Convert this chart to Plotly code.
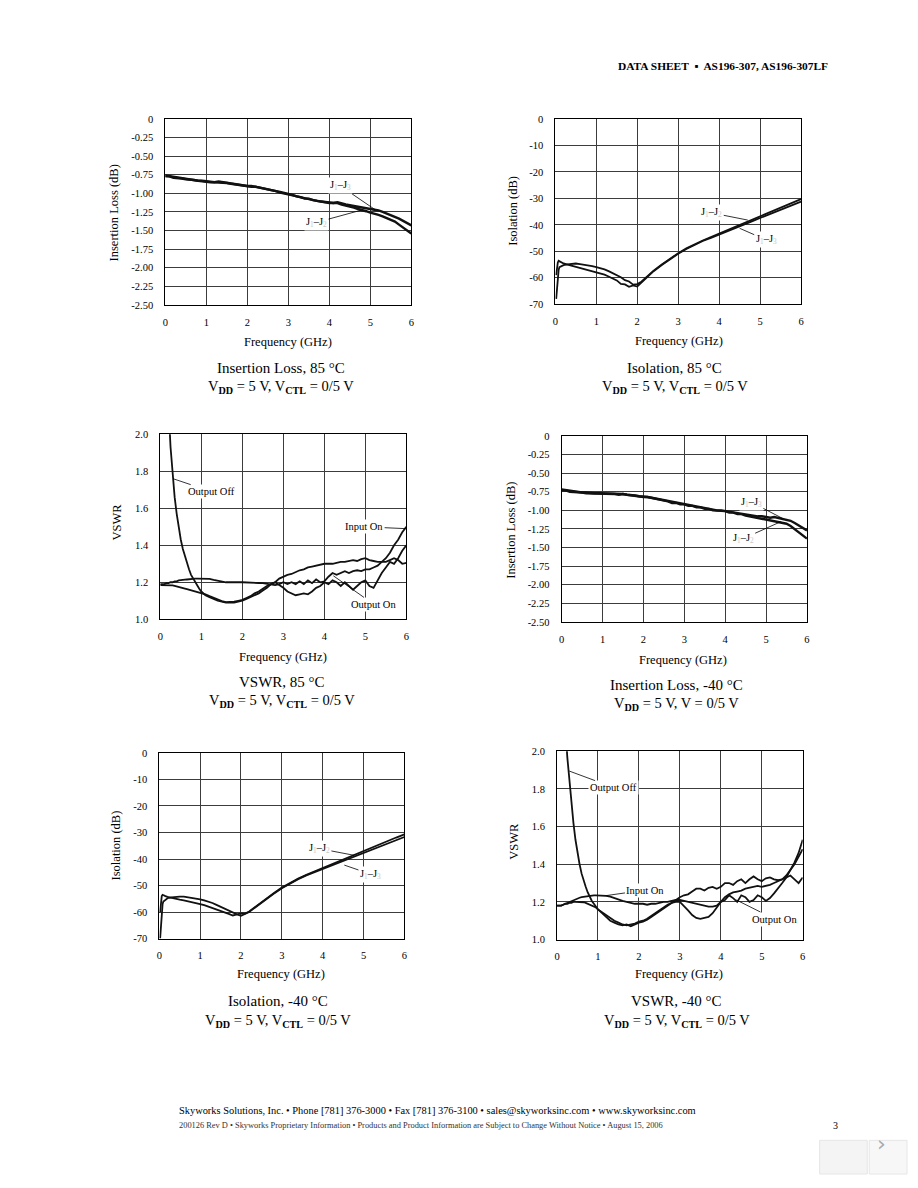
import plotly.graph_objects as go

PAGE_W, PAGE_H = 918, 1188
BODY_MARGIN = 8           # default browser body margin around the plot div
W, H = PAGE_W - 2 * BODY_MARGIN, PAGE_H - 2 * BODY_MARGIN

# ---------------- data ----------------
FREQ_IL = [0.0, 0.1, 0.2, 0.3, 0.4, 0.5, 0.6, 0.7, 0.8, 0.9, 1.0, 1.1, 1.2, 1.3, 1.4, 1.5,
           1.6, 1.7, 1.8, 1.9, 2.0, 2.1, 2.2, 2.3, 2.4, 2.5, 2.6, 2.7, 2.8, 2.9, 3.0, 3.1,
           3.2, 3.3, 3.4, 3.5, 3.6, 3.7, 3.8, 3.9, 4.0, 4.1, 4.2, 4.3, 4.4, 4.5, 4.6, 4.7,
           4.8, 4.9, 5.0, 5.1, 5.2, 5.3, 5.4, 5.5, 5.6, 5.7, 5.8, 5.9, 6.0]

IL85_J13 = [-0.76, -0.77, -0.78, -0.79, -0.80, -0.80, -0.81, -0.82, -0.83, -0.83, -0.84, -0.84,
            -0.85, -0.84, -0.85, -0.86, -0.87, -0.87, -0.88, -0.89, -0.90, -0.90, -0.91, -0.92,
            -0.93, -0.94, -0.95, -0.97, -0.98, -0.99, -1.01, -1.02, -1.04, -1.05, -1.06, -1.07,
            -1.08, -1.10, -1.11, -1.12, -1.12, -1.13, -1.12, -1.14, -1.15, -1.16, -1.17, -1.18,
            -1.19, -1.20, -1.21, -1.22, -1.23, -1.25, -1.27, -1.29, -1.31, -1.34, -1.37, -1.40, -1.43]
IL85_J12 = [-0.77, -0.77, -0.79, -0.79, -0.80, -0.81, -0.81, -0.82, -0.83, -0.84, -0.84, -0.85,
            -0.85, -0.85, -0.86, -0.86, -0.87, -0.88, -0.88, -0.89, -0.90, -0.91, -0.91, -0.92,
            -0.94, -0.94, -0.96, -0.97, -0.99, -1.00, -1.01, -1.03, -1.04, -1.05, -1.07, -1.07,
            -1.09, -1.10, -1.12, -1.12, -1.13, -1.13, -1.13, -1.15, -1.16, -1.17, -1.19, -1.21,
            -1.22, -1.24, -1.26, -1.27, -1.29, -1.31, -1.33, -1.35, -1.38, -1.42, -1.46, -1.50, -1.54]

IL40_J13 = [-0.72, -0.73, -0.74, -0.75, -0.75, -0.76, -0.76, -0.77, -0.77, -0.77, -0.77, -0.77,
            -0.77, -0.78, -0.78, -0.78, -0.79, -0.79, -0.80, -0.81, -0.81, -0.82, -0.83, -0.84,
            -0.85, -0.86, -0.88, -0.89, -0.90, -0.91, -0.92, -0.93, -0.94, -0.95, -0.96, -0.97,
            -0.98, -0.99, -1.00, -1.00, -1.01, -1.02, -1.03, -1.04, -1.05, -1.06, -1.07, -1.07,
            -1.08, -1.08, -1.09, -1.10, -1.09, -1.10, -1.11, -1.12, -1.14, -1.17, -1.20, -1.23, -1.27]
IL40_J12 = [-0.73, -0.73, -0.75, -0.75, -0.76, -0.76, -0.77, -0.77, -0.78, -0.77, -0.78, -0.77,
            -0.78, -0.78, -0.79, -0.78, -0.79, -0.80, -0.80, -0.81, -0.82, -0.82, -0.83, -0.85,
            -0.85, -0.87, -0.88, -0.90, -0.90, -0.92, -0.92, -0.94, -0.94, -0.96, -0.96, -0.98,
            -0.98, -1.00, -1.00, -1.01, -1.01, -1.03, -1.03, -1.05, -1.05, -1.07, -1.08, -1.09,
            -1.10, -1.11, -1.13, -1.14, -1.15, -1.16, -1.17, -1.18, -1.21, -1.25, -1.29, -1.33, -1.38]

FREQ_ISO = [0.02, 0.04, 0.06, 0.08, 0.1, 0.15, 0.2, 0.3, 0.4, 0.5, 0.6, 0.7, 0.8, 0.9, 1.0,
            1.1, 1.2, 1.3, 1.4, 1.5, 1.6, 1.7, 1.8, 1.9, 2.0, 2.1, 2.2, 2.3, 2.4, 2.6, 2.8,
            3.0, 3.2, 3.4, 3.6, 3.8, 4.0, 4.2, 4.4, 4.6, 4.8, 5.0, 5.2, 5.4, 5.6, 5.8, 6.0]

ISO85_J12 = [-68.0, -63.0, -59.0, -57.0, -56.0, -55.5, -55.2, -54.9, -54.7, -54.6, -54.8, -55.0,
             -55.3, -55.6, -56.0, -56.4, -56.8, -57.5, -58.2, -59.0, -59.8, -60.9, -61.4, -62.6,
             -62.4, -61.5, -60.0, -58.6, -57.3, -55.0, -52.8, -50.7, -48.9, -47.3, -45.9, -44.6,
             -43.3, -42.0, -40.6, -39.3, -38.0, -36.7, -35.4, -34.1, -32.8, -31.6, -30.3]
ISO85_J13 = [-59.0, -56.0, -54.2, -53.6, -53.8, -54.2, -54.6, -55.0, -55.4, -55.8, -56.2, -56.6,
             -57.0, -57.4, -57.8, -58.3, -58.8, -59.5, -60.3, -61.0, -62.3, -62.5, -63.4, -62.9,
             -63.3, -61.8, -60.2, -58.8, -57.5, -55.2, -53.0, -50.9, -49.1, -47.5, -46.1, -44.9,
             -43.7, -42.5, -41.2, -40.0, -38.7, -37.4, -36.2, -34.9, -33.7, -32.4, -31.2]

ISO40_J12 = [-70.0, -64.0, -59.0, -57.0, -56.0, -55.2, -54.8, -54.5, -54.3, -54.2, -54.2, -54.4,
             -54.6, -54.9, -55.2, -55.6, -56.0, -56.6, -57.3, -58.0, -58.8, -59.6, -60.2, -60.9,
             -60.5, -60.6, -59.8, -58.6, -57.4, -55.1, -52.9, -50.8, -49.0, -47.4, -46.0, -44.7,
             -43.4, -42.1, -40.8, -39.5, -38.2, -36.9, -35.6, -34.4, -33.1, -31.9, -30.7]
ISO40_J13 = [-60.0, -56.0, -54.0, -53.5, -53.7, -54.0, -54.3, -54.7, -55.0, -55.3, -55.6, -55.9,
             -56.2, -56.6, -57.0, -57.4, -57.9, -58.4, -59.0, -59.6, -60.2, -60.7, -61.3, -60.9,
             -61.4, -60.8, -60.0, -58.8, -57.6, -55.3, -53.1, -51.0, -49.2, -47.6, -46.2, -45.0,
             -43.8, -42.6, -41.4, -40.2, -39.0, -37.8, -36.6, -35.3, -34.1, -32.9, -31.7]

FREQ_VSWR = [0.0, 0.05, 0.1, 0.15, 0.2, 0.25, 0.3, 0.35, 0.4, 0.45, 0.5, 0.55, 0.6, 0.65, 0.7,
             0.75, 0.8, 0.85, 0.9, 0.95, 1.0, 1.1, 1.2, 1.3, 1.4, 1.5, 1.6, 1.7, 1.8, 1.9, 2.0,
             2.1, 2.2, 2.3, 2.4, 2.5, 2.6, 2.7, 2.8, 2.9, 3.0, 3.1, 3.2, 3.3, 3.4, 3.5, 3.6,
             3.7, 3.8, 3.9, 4.0, 4.1, 4.2, 4.3, 4.4, 4.5, 4.6, 4.7, 4.8, 4.9, 5.0, 5.1, 5.2,
             5.3, 5.4, 5.5, 5.6, 5.7, 5.8, 5.9, 6.0]

VSWR85_OFF = [3.6, 3.2, 2.8, 2.45, 2.15, 1.93, 1.78, 1.66, 1.57, 1.49, 1.43, 1.38, 1.34, 1.30,
              1.27, 1.24, 1.22, 1.20, 1.18, 1.165, 1.15, 1.13, 1.12, 1.11, 1.10, 1.095, 1.09,
              1.09, 1.09, 1.095, 1.10, 1.11, 1.12, 1.13, 1.14, 1.155, 1.17, 1.19, 1.20, 1.22,
              1.23, 1.24, 1.245, 1.255, 1.265, 1.27, 1.28, 1.285, 1.29, 1.295, 1.30, 1.30, 1.30,
              1.305, 1.31, 1.31, 1.315, 1.32, 1.315, 1.325, 1.33, 1.32, 1.315, 1.31, 1.31, 1.31,
              1.32, 1.33, 1.32, 1.30, 1.305]
VSWR85_IN = [1.19, 1.19, 1.19, 1.195, 1.195, 1.20, 1.20, 1.205, 1.205, 1.21, 1.21, 1.212, 1.214,
             1.215, 1.217, 1.218, 1.219, 1.22, 1.22, 1.22, 1.22, 1.219, 1.218, 1.213, 1.208,
             1.203, 1.20, 1.20, 1.198, 1.20, 1.20, 1.198, 1.20, 1.197, 1.196, 1.195, 1.193, 1.19,
             1.185, 1.19, 1.20, 1.19, 1.20, 1.19, 1.205, 1.19, 1.21, 1.195, 1.215, 1.20, 1.205,
             1.23, 1.25, 1.24, 1.25, 1.26, 1.25, 1.26, 1.265, 1.26, 1.27, 1.27, 1.28, 1.29, 1.31,
             1.33, 1.36, 1.40, 1.43, 1.47, 1.50]
VSWR85_OUT = [1.185, 1.185, 1.185, 1.185, 1.185, 1.185, 1.183, 1.18, 1.178, 1.175, 1.172, 1.17,
              1.166, 1.163, 1.16, 1.157, 1.155, 1.152, 1.15, 1.147, 1.145, 1.135, 1.125, 1.115,
              1.105, 1.098, 1.093, 1.093, 1.095, 1.10, 1.105, 1.115, 1.125, 1.14, 1.15, 1.165,
              1.18, 1.19, 1.20, 1.185, 1.17, 1.15, 1.14, 1.13, 1.135, 1.14, 1.135, 1.15, 1.17,
              1.18, 1.20, 1.19, 1.21, 1.20, 1.18, 1.20, 1.18, 1.16, 1.18, 1.20, 1.21, 1.18, 1.17,
              1.21, 1.25, 1.28, 1.31, 1.30, 1.33, 1.37, 1.40]

VSWR40_OFF = [3.6, 3.2, 2.8, 2.45, 2.15, 1.97, 1.85, 1.72, 1.62, 1.53, 1.46, 1.40, 1.35, 1.31,
              1.28, 1.25, 1.225, 1.205, 1.19, 1.175, 1.16, 1.14, 1.12, 1.10, 1.09, 1.08, 1.075,
              1.08, 1.07, 1.08, 1.09, 1.095, 1.105, 1.12, 1.135, 1.15, 1.165, 1.18, 1.195, 1.21,
              1.225, 1.235, 1.24, 1.255, 1.27, 1.27, 1.26, 1.275, 1.28, 1.27, 1.28, 1.30, 1.30,
              1.29, 1.31, 1.32, 1.30, 1.32, 1.335, 1.32, 1.31, 1.325, 1.33, 1.32, 1.315, 1.32,
              1.33, 1.34, 1.32, 1.30, 1.33]
VSWR40_IN = [1.18, 1.18, 1.18, 1.185, 1.19, 1.195, 1.20, 1.205, 1.21, 1.215, 1.22, 1.222, 1.225,
             1.227, 1.228, 1.23, 1.232, 1.233, 1.234, 1.235, 1.235, 1.234, 1.232, 1.228, 1.22,
             1.21, 1.205, 1.20, 1.195, 1.19, 1.19, 1.19, 1.185, 1.19, 1.19, 1.195, 1.20, 1.20,
             1.205, 1.21, 1.21, 1.205, 1.20, 1.195, 1.19, 1.185, 1.18, 1.175, 1.175, 1.18, 1.20,
             1.225, 1.24, 1.25, 1.255, 1.26, 1.27, 1.275, 1.28, 1.285, 1.28, 1.285, 1.29, 1.30,
             1.31, 1.32, 1.34, 1.37, 1.41, 1.46, 1.53]
VSWR40_OUT = [1.18, 1.18, 1.18, 1.185, 1.19, 1.19, 1.195, 1.195, 1.20, 1.20, 1.20, 1.20, 1.20,
              1.198, 1.195, 1.19, 1.185, 1.18, 1.175, 1.17, 1.16, 1.145, 1.13, 1.115, 1.10, 1.09,
              1.08, 1.075, 1.08, 1.085, 1.095, 1.10, 1.11, 1.125, 1.14, 1.155, 1.17, 1.185, 1.195,
              1.20, 1.20, 1.18, 1.155, 1.13, 1.115, 1.11, 1.115, 1.12, 1.14, 1.17, 1.20, 1.21,
              1.235, 1.22, 1.20, 1.235, 1.225, 1.20, 1.21, 1.235, 1.225, 1.205, 1.22, 1.245, 1.27,
              1.30, 1.33, 1.37, 1.40, 1.44, 1.48]

FREQ_TICKS = [0, 1, 2, 3, 4, 5, 6]
IL_TICKS = [0, -0.25, -0.5, -0.75, -1.0, -1.25, -1.5, -1.75, -2.0, -2.25, -2.5]
IL_TICKTEXT = ["0", "-0.25", "-0.50", "-0.75", "-1.00", "-1.25", "-1.50", "-1.75", "-2.00", "-2.25", "-2.50"]
ISO_TICKS = [0, -10, -20, -30, -40, -50, -60, -70]
ISO_TICKTEXT = ["0", "-10", "-20", "-30", "-40", "-50", "-60", "-70"]
VSWR_TICKS = [1.0, 1.2, 1.4, 1.6, 1.8, 2.0]
VSWR_TICKTEXT = ["1.0", "1.2", "1.4", "1.6", "1.8", "2.0"]

# ---------------- layout helpers ----------------
FONT = "Liberation Serif, Times New Roman, serif"
def px(x):
    return (x - BODY_MARGIN) / W
def py(y):
    return 1 - (y - BODY_MARGIN) / H

# panel boxes in page pixels: (left, right, top, bottom)
PANELS = [
    dict(box=(163.3, 411.0, 115.0, 302.7), kind="il"),
    dict(box=(556.0, 803.3, 115.0, 302.0), kind="iso"),
    dict(box=(158.3, 406.0, 433.3, 620.0), kind="vswr"),
    dict(box=(562.3, 809.3, 435.0, 622.7), kind="il"),
    dict(box=(157.3, 404.0, 755.0, 942.3), kind="iso"),
    dict(box=(557.7, 805.0, 753.3, 943.3), kind="vswr"),
]

fig = go.Figure()

series = [
    (1, FREQ_IL, IL85_J13, 2.4), (1, FREQ_IL, IL85_J12, 2.4),
    (2, FREQ_ISO, ISO85_J12, 1.8), (2, FREQ_ISO, ISO85_J13, 1.8),
    (3, FREQ_VSWR, VSWR85_OFF, 1.8), (3, FREQ_VSWR, VSWR85_IN, 1.8), (3, FREQ_VSWR, VSWR85_OUT, 1.8),
    (4, FREQ_IL, IL40_J13, 2.4), (4, FREQ_IL, IL40_J12, 2.4),
    (5, FREQ_ISO, ISO40_J12, 1.8), (5, FREQ_ISO, ISO40_J13, 1.8),
    (6, FREQ_VSWR, VSWR40_OFF, 1.8), (6, FREQ_VSWR, VSWR40_IN, 1.8), (6, FREQ_VSWR, VSWR40_OUT, 1.8),
]
for idx, xs, ys, w in series:
    sfx = "" if idx == 1 else str(idx)
    fig.add_trace(go.Scatter(x=xs, y=ys, mode="lines", line=dict(color="#111", width=w),
                             xaxis="x" + sfx, yaxis="y" + sfx, showlegend=False,
                             hoverinfo="skip"))

layout = dict(width=W, height=H, margin=dict(l=0, r=0, t=0, b=0), autosize=False,
              paper_bgcolor="white", plot_bgcolor="white", showlegend=False,
              font=dict(family=FONT, color="black", size=10))

GRID = "#3c3c3c"
for i, p in enumerate(PANELS, start=1):
    l, r, t, b = p["box"]
    sfx = "" if i == 1 else str(i)
    xa = dict(domain=[px(l), px(r)], anchor="y" + sfx, range=[0, 6], tickvals=FREQ_TICKS,
              showgrid=True, gridcolor=GRID, gridwidth=1, zeroline=False,
              showline=True, linecolor="black", linewidth=1, mirror=True, ticks="",
              ticklabelstandoff=7, tickfont=dict(family=FONT, size=10.5, color="black"))
    ya = dict(domain=[py(b), py(t)], anchor="x" + sfx, showgrid=True, gridcolor=GRID, gridwidth=1,
              zeroline=False, showline=True, linecolor="black", linewidth=1, mirror=True,
              ticks="", ticklabelstandoff=9, tickfont=dict(family=FONT, size=10.5, color="black"))
    if p["kind"] == "il":
        ya.update(range=[-2.5, 0], tickvals=IL_TICKS, ticktext=IL_TICKTEXT)
    elif p["kind"] == "iso":
        ya.update(range=[-70, 0], tickvals=ISO_TICKS, ticktext=ISO_TICKTEXT)
    else:
        ya.update(range=[1.0, 2.0], tickvals=VSWR_TICKS, ticktext=VSWR_TICKTEXT)
    layout["xaxis" + sfx] = xa
    layout["yaxis" + sfx] = ya

fig.update_layout(**layout)

ann = []
def page_text(x, y, text, size, xanchor="center", angle=0, color="black"):
    ann.append(dict(x=px(x), y=py(y), xref="paper", yref="paper", text=text, showarrow=False,
                    xanchor=xanchor, yanchor="middle", textangle=angle,
                    font=dict(family=FONT, size=size, color=color)))

# header
page_text(832, 62, "<b>DATA SHEET  ▪  AS196-307, AS196-307LF</b>", 11.4, xanchor="right")

# axis titles
XT = [(287, 340), (680, 339), (282, 658), (685, 661), (280, 978), (680, 978)]
for x, y in XT:
    page_text(x, y, "Frequency (GHz)", 12.5)
YT = [(112, 210, "Insertion Loss (dB)"), (513, 208, "Isolation (dB)"), (115, 522, "VSWR"),
      (511, 530, "Insertion Loss (dB)"), (114, 848, "Isolation (dB)"), (515, 844, "VSWR")]
for x, y, t in YT:
    page_text(x, y, t, 12.5, angle=-90)

# captions
VLINE = "V<sub><b>DD</b></sub> = 5 V, V<sub><b>CTL</b></sub> = 0/5 V"
CAPS = [(280, 366, 386, "Insertion Loss, 85 °C", VLINE),
        (676, 366, 386, "Isolation, 85 °C", VLINE),
        (281, 683, 703, "VSWR, 85 °C", VLINE),
        (678, 686, 706, "Insertion Loss, -40 °C", "V<sub><b>DD</b></sub> = 5 V, V = 0/5 V"),
        (277, 1005, 1026, "Isolation, -40 °C", VLINE),
        (678, 1005, 1026, "VSWR, -40 °C", VLINE)]
for x, y1, y2, t1, t2 in CAPS:
    page_text(x, y1, t1, 15)
    page_text(x, y2, t2, 14.5)

# footer
page_text(175, 1116, "Skyworks Solutions, Inc. • Phone [781] 376-3000 • Fax [781] 376-3100 • "
          "sales@skyworksinc.com • www.skyworksinc.com", 10.4, xanchor="left")
page_text(175, 1131, "200126 Rev D • Skyworks Proprietary Information • Products and Product "
          "Information are Subject to Change Without Notice • August 15, 2006", 8.4,
          xanchor="left", color="#333")
page_text(838, 1131, "3", 10)

# curve labels with leader lines (data coordinates)
G = "#c8c8c8"
def jlab(a, b):
    return ("J<sub><span style='color:%s'>%s</span></sub>–J<sub><span style='color:%s'>%s</span></sub>"
            % (G, a, G, b))

def lead(idx, tx, ty, ax, ay, text):
    sfx = "" if idx == 1 else str(idx)
    ann.append(dict(x=tx, y=ty, ax=ax, ay=ay, xref="x" + sfx, yref="y" + sfx,
                    axref="x" + sfx, ayref="y" + sfx, text=text, showarrow=True,
                    arrowhead=0, arrowwidth=0.8, arrowcolor="black", standoff=0,
                    bgcolor="white", borderpad=1,
                    font=dict(family=FONT, size=10.5, color="black")))

lead(1, 5.12, -1.22, 4.27, -0.90, jlab(1, 3))
lead(1, 4.75, -1.23, 3.69, -1.39, jlab(1, 2))
lead(2, 4.7, -38.2, 3.82, -35.5, jlab(1, 2))
lead(2, 4.5, -41.3, 5.15, -45.7, jlab(1, 3))
lead(3, 0.31, 1.76, 1.25, 1.69, "Output Off")
lead(3, 5.98, 1.49, 4.97, 1.50, "Input On")
lead(3, 4.22, 1.235, 5.21, 1.08, "Output On")
lead(4, 5.41, -1.11, 4.64, -0.89, jlab(1, 3))
lead(4, 5.37, -1.15, 4.44, -1.38, jlab(1, 2))
lead(5, 4.77, -38.6, 3.92, -36.1, jlab(1, 2))
lead(5, 4.53, -42.3, 5.17, -45.7, jlab(1, 3))
lead(6, 0.3, 1.895, 1.39, 1.807, "Output Off")
lead(6, 1.19, 1.233, 2.16, 1.263, "Input On")
lead(6, 4.38, 1.21, 5.31, 1.109, "Output On")

fig.update_layout(annotations=ann)

# viewer widget in the lower right corner
fig.update_layout(shapes=[
    dict(type="rect", xref="paper", yref="paper", x0=px(822), x1=px(870), y0=py(1180), y1=py(1146),
         line=dict(color="#e6e6e6", width=1), fillcolor="#f4f4f4", layer="below"),
    dict(type="rect", xref="paper", yref="paper", x0=px(872), x1=px(910), y0=py(1180), y1=py(1146),
         line=dict(color="#e6e6e6", width=1), fillcolor="#f7f7f7", layer="below"),
])
fig.add_annotation(x=px(891), y=py(1164), xref="paper", yref="paper", text="›", showarrow=False,
                   font=dict(family="DejaVu Sans", size=22, color="#aaaaaa"))

fig.write_html("out.html", config={"displayModeBar": False})
